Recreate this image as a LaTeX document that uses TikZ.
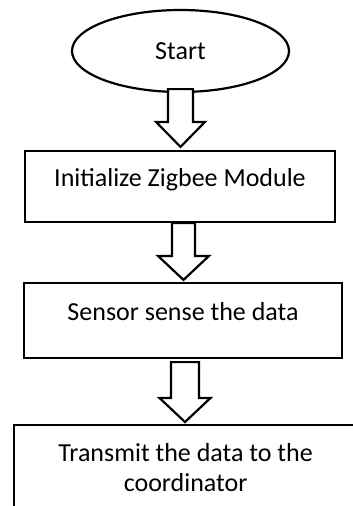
\documentclass[tikz,border=0pt]{standalone}
\usepackage{fontspec}
\setmainfont{Carlito}
\usetikzlibrary{calc,shapes.geometric}
\newcommand\bkarrow[5]{\draw[blockarrow] let \p1=(#1), \p2=(#2) in
 (\x1-#3,\y1) -- (\x1+#3,\y1) -- (\x1+#3,\y2+#5) -- (\x1+#4,\y2+#5) -- (\x1,\y2) -- (\x1-#4,\y2+#5) -- (\x1-#3,\y2+#5) -- cycle;}
\begin{document}
\begin{tikzpicture}[x=1pt,y=-1pt,
 base/.style={draw=black, line width=2.2pt, font=\fontsize{26}{30}\selectfont},
 terminal/.style={base, ellipse, minimum width=217pt, minimum height=82pt, inner sep=0pt},
 process/.style={base, rectangle, inner sep=0pt, text height=16pt, text depth=16pt},
 blockarrow/.style={draw=black, fill=white, line width=2.2pt, line join=miter}]
\useasboundingbox (0,0) rectangle (353,506);
\clip (0,0) rectangle (353,506);
\node[terminal] (start) at (180.5,51) {Start};
\node[process, minimum width=310pt, minimum height=71pt] (init) at (180,186.5) {Initialize Zigbee Module};
\node[process, minimum width=318pt, minimum height=75pt] (sense) at (183,320.5) {Sensor sense the data};
\node[base, rectangle, anchor=north west, minimum width=343pt, inner xsep=0pt, inner ysep=18pt, align=center] (tx) at (13,424) {Transmit the data to the\\coordinator};
\bkarrow{$(start.south)+(0,-4)$}{$(init.north)+(0,-3)$}{12.5pt}{24.5pt}{25pt}
\bkarrow{$(init.south)+(3.5,0)$}{$(sense.north)+(0,-2)$}{11.5pt}{25.5pt}{24pt}
\bkarrow{$(sense.south)+(2,3)$}{$(tx.north)+(0,-2)$}{14pt}{25.5pt}{24pt}
\end{tikzpicture}
\end{document}
